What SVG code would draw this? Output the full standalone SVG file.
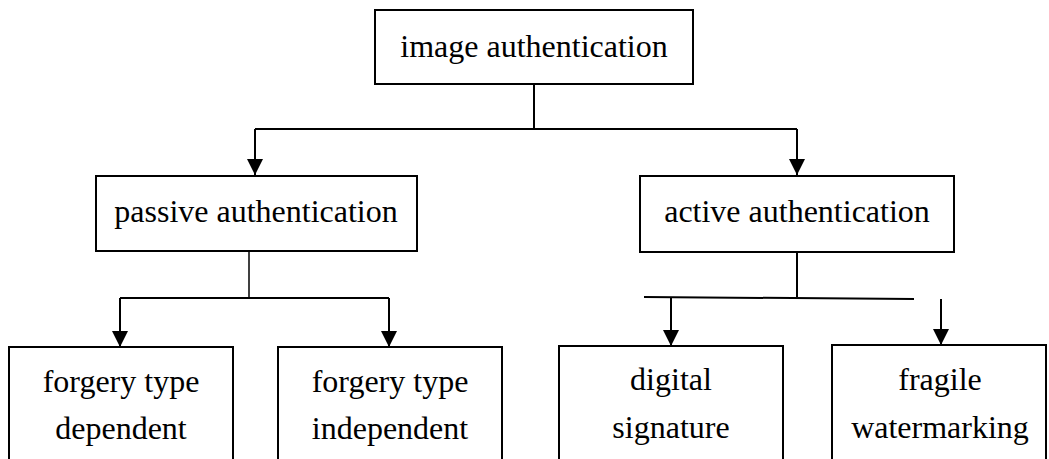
<svg xmlns="http://www.w3.org/2000/svg" width="1049" height="459" viewBox="0 0 1049 459">
  <style>
    .box { fill: #ffffff; stroke: #000000; stroke-width: 2; }
    .wire { fill: none; stroke: #000000; stroke-width: 2; }
  </style>
  <defs>
    <marker id="arrow" markerUnits="userSpaceOnUse" markerWidth="16" markerHeight="16" viewBox="0 0 16 16" refX="16" refY="8" orient="auto">
      <path d="M0,0 L16,8 L0,16 Z" fill="#000000"/>
    </marker>
  </defs>
  <rect width="1049" height="459" fill="#ffffff"/>

  <!-- tree connectors -->
  <g id="connectors">
    <!-- root to second level -->
    <path class="wire" d="M534,84 V129"/>
    <path class="wire" d="M255,129 H797"/>
    <path class="wire" d="M255,129 V175" marker-end="url(#arrow)"/>
    <path class="wire" d="M797,129 V175" marker-end="url(#arrow)"/>
    <!-- passive branch -->
    <path class="wire" d="M249,251 V298" style="stroke-width:1.5"/>
    <path class="wire" d="M120,298 H389"/>
    <path class="wire" d="M120,298 V347" marker-end="url(#arrow)"/>
    <path class="wire" d="M389,298 V347" marker-end="url(#arrow)"/>
    <!-- active branch -->
    <path class="wire" d="M797,252 V297"/>
    <path class="wire" d="M644,297 L914,299"/>
    <path class="wire" d="M671,298 V346" marker-end="url(#arrow)"/>
    <path class="wire" d="M941,299 V345" marker-end="url(#arrow)"/>
  </g>

  <!-- node labels share one serif face -->
  <g font-family="Liberation Serif, DejaVu Serif, serif" font-size="32" fill="#000000" text-anchor="middle">
    <g id="image-authentication">
      <rect class="box" x="375" y="10" width="318" height="74"/>
      <text x="534" y="57">image authentication</text>
    </g>

    <g id="passive-authentication">
      <rect class="box" x="96" y="176" width="321" height="75"/>
      <text x="256" y="222">passive authentication</text>
    </g>

    <g id="active-authentication">
      <rect class="box" x="640" y="176" width="314" height="76"/>
      <text x="797" y="222">active authentication</text>
    </g>

    <g id="forgery-type-dependent">
      <rect class="box" x="9" y="347" width="224" height="130"/>
      <text x="121" y="392">forgery type</text>
      <text x="121" y="439">dependent</text>
    </g>

    <g id="forgery-type-independent">
      <rect class="box" x="278" y="347" width="224" height="130"/>
      <text x="390" y="392">forgery type</text>
      <text x="390" y="439">independent</text>
    </g>

    <g id="digital-signature">
      <rect class="box" x="559" y="346" width="224" height="130"/>
      <text x="671" y="390">digital</text>
      <text x="671" y="438">signature</text>
    </g>

    <g id="fragile-watermarking">
      <rect class="box" x="832" y="345" width="214" height="130"/>
      <text x="940" y="390">fragile</text>
      <text x="940" y="438">watermarking</text>
    </g>
  </g>
</svg>
